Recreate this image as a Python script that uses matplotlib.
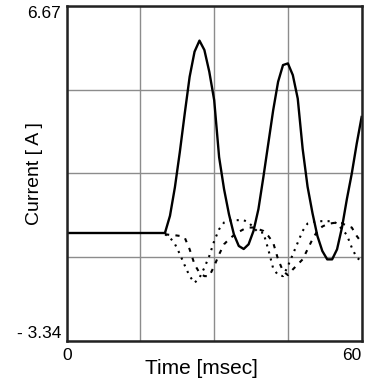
import matplotlib
matplotlib.use("Agg")
import matplotlib.pyplot as plt
import numpy as np

plt.rcParams['font.family'] = ['Liberation Sans', 'DejaVu Sans']

# time axis [msec]
t_pre = [0, 20]
t_post = list(range(20, 61))

# phase currents [A]
i_pre = [-0.1, -0.1]
i_solid = [-0.10, 0.40, 1.25, 2.30, 3.45, 4.55, 5.30, 5.63, 5.35, 4.70,
           3.85, 2.15, 1.20, 0.45, -0.15, -0.50, -0.59, -0.45, -0.05, 0.60,
           1.55, 2.55, 3.55, 4.40, 4.90, 4.95, 4.60, 3.90, 2.40, 1.27,
           0.48, -0.20, -0.65, -0.90, -0.90, -0.60, 0.05, 0.90, 1.665, 2.55,
           3.35]
i_dot = [-0.15, -0.25, -0.44, -0.74, -1.08, -1.40, -1.60, -1.45, -1.15, -0.80,
         -0.35, 0.00, 0.20, 0.26, 0.27, 0.27, 0.27, 0.20, 0.05, -0.10,
         -0.10, -0.60, -1.17, -1.37, -1.40, -1.10, -0.75, -0.40, -0.05, 0.17,
         0.22, 0.24, 0.24, 0.24, 0.24, 0.17, 0.00, -0.17, -0.55, -0.85,
         -0.95]
i_dash = [-0.15, -0.17, -0.18, -0.20, -0.25, -0.60, -1.05, -1.30, -1.40, -1.40,
          -1.10, -0.75, -0.45, -0.30, -0.18, -0.08, 0.00, 0.05, 0.05, 0.00,
          -0.05, -0.20, -0.40, -0.90, -1.25, -1.37, -1.20, -1.05, -0.90, -0.60,
          -0.30, -0.05, 0.08, 0.15, 0.18, 0.20, 0.18, 0.10, 0.05, -0.20,
          -0.40]

y_min, y_max = -3.34, 6.67
x_ticks = [0, 15, 30, 45, 60]
x_labels = ['0', '', '', '', '60']
y_ticks = list(np.linspace(y_min, y_max, 5))
y_labels = ['- 3.34', '', '', '', '6.67']

fig = plt.figure(figsize=(3.69, 3.85), dpi=100)
ax = fig.add_axes([0.181, 0.114, 0.799, 0.871])

ax.plot(t_post, i_dot, color='black', lw=1.5, linestyle=(0, (1, 2.5)))
ax.plot(t_post, i_dash, color='black', lw=1.5, linestyle=(0, (2, 3)))
ax.plot(t_pre, i_pre, color='black', lw=1.7)
ax.plot(t_post, i_solid, color='black', lw=1.7)

ax.set_xlim(0, 60)
ax.set_ylim(y_min, y_max)
ax.set_xticks(x_ticks)
ax.set_xticklabels(x_labels)
ax.set_yticks(y_ticks)
ax.set_yticklabels(y_labels)
ax.tick_params(length=0, labelsize=12.5)
ax.tick_params(axis='x', pad=5)
ax.tick_params(axis='y', pad=4)
ylabs = ax.get_yticklabels()
ylabs[0].set_va('bottom')
ylabs[-1].set_va('top')
ax.get_xticklabels()[-1].set_ha('right')
ax.grid(True, color='#8c8c8c', lw=1)
ax.set_axisbelow(True)
for s in ax.spines.values():
    s.set_linewidth(1.8)
    s.set_color('#222222')

ax.set_xlabel('Time [msec]', fontsize=15)
ax.xaxis.set_label_coords(0.457, -0.054)
ax.set_ylabel('Current [ A ]', fontsize=14)
ax.yaxis.set_label_coords(-0.080, 0.5)

fig.savefig('out.png', dpi=100)
